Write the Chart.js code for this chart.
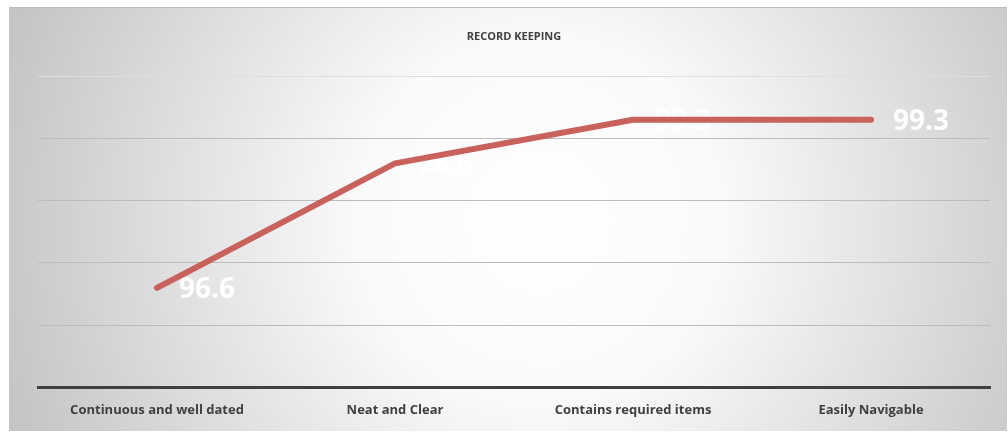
<!DOCTYPE html>
<html lang="en">
<head>
  <meta charset="UTF-8" />
  <title>Record Keeping</title>
  <script src="https://cdn.jsdelivr.net/npm/chart.js"></script>
  <style>
    html, body { margin: 0; padding: 0; background: #fff; }
    #wrap { width: 1008px; height: 433px; }
  </style>
</head>
<body>
  <div id="wrap"><canvas id="chart"></canvas></div>
  <script>
    const categories = ['Continuous and well dated', 'Neat and Clear', 'Contains required items', 'Easily Navigable'];
    const scores = [96.6, 98.6, 99.3, 99.3];
    const yMin = 95;
    const yMax = 100;

    // gradient panel behind the chart
    const panelBg = {
      id: 'panelBg',
      beforeDraw(chart) {
        const ctx = chart.ctx;
        ctx.save();
        const g = ctx.createRadialGradient(540, 220, 0, 540, 220, 600);
        g.addColorStop(0, '#ffffff');
        g.addColorStop(0.3, '#fafafa');
        g.addColorStop(1, '#bfbfbf');
        ctx.fillStyle = g;
        ctx.fillRect(9, 7, 998, 424);
        ctx.fillStyle = '#bdbdbd';
        ctx.fillRect(9, 7, 998, 1);
        ctx.restore();
      }
    };

    // white value labels, drawn under the line
    const valueLabels = {
      id: 'valueLabels',
      beforeDatasetsDraw(chart) {
        const ctx = chart.ctx;
        const meta = chart.getDatasetMeta(0);
        ctx.save();
        ctx.font = 'bold 28px "Open Sans", sans-serif';
        ctx.fillStyle = '#ffffff';
        ctx.textAlign = 'left';
        ctx.textBaseline = 'middle';
        meta.data.forEach((pt, i) => {
          ctx.fillText(scores[i].toFixed(1), pt.x + 22, pt.y + 2);
        });
        ctx.restore();
      }
    };

    new Chart(document.getElementById('chart'), {
      type: 'line',
      data: {
        labels: categories,
        datasets: [{
          data: scores,
          borderColor: '#c9615d',
          borderWidth: 6,
          borderCapStyle: 'round',
          borderJoinStyle: 'round',
          pointRadius: 0,
          tension: 0
        }]
      },
      options: {
        responsive: true,
        maintainAspectRatio: false,
        animation: false,
        layout: { padding: { left: 38, right: 18, top: 0, bottom: 0 } },
        plugins: {
          legend: { display: false },
          tooltip: { enabled: false },
          title: {
            display: true,
            text: 'RECORD KEEPING',
            color: '#404040',
            font: { family: '"Open Sans", sans-serif', size: 11, weight: 'bold' },
            padding: { top: 30, bottom: 33 }
          }
        },
        scales: {
          x: {
            offset: true,
            grid: { display: false, drawTicks: false },
            border: { display: true, color: '#404040', width: 3 },
            ticks: {
              color: '#404040',
              padding: 15,
              maxRotation: 0,
              font: { family: '"Open Sans", sans-serif', size: 13, weight: 'bold' }
            }
          },
          y: {
            min: yMin,
            max: yMax,
            ticks: { display: false, stepSize: 1 },
            grid: {
              drawTicks: false,
              color: ctx => ctx.tick && ctx.tick.value === yMax ? '#dedede' : '#bcbcbc',
              lineWidth: 1
            },
            border: { display: false }
          }
        }
      },
      plugins: [panelBg, valueLabels]
    });
  </script>
</body>
</html>
